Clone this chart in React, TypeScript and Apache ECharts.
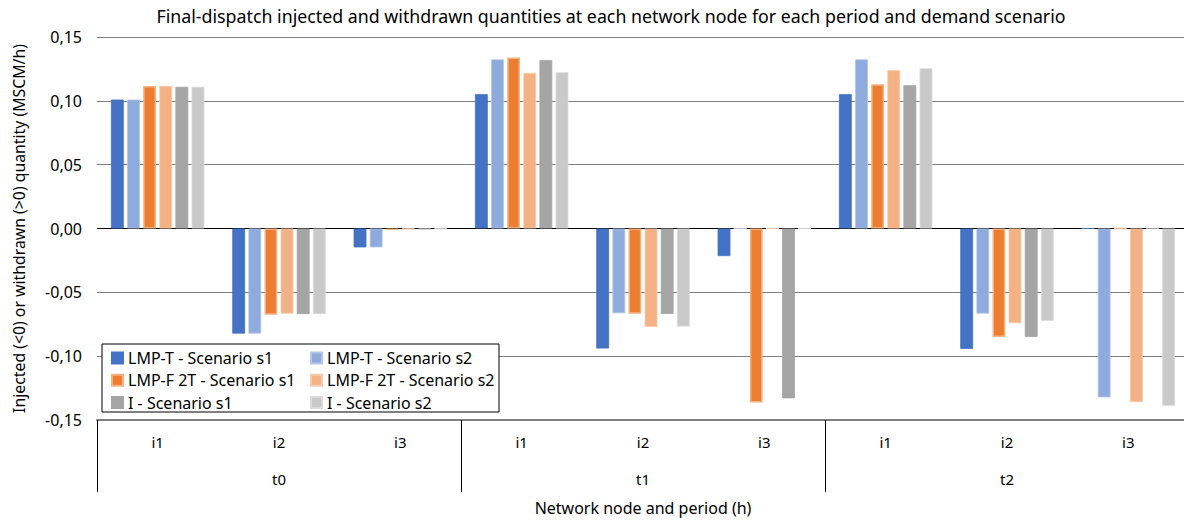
import React, { useEffect, useRef } from "react";
import * as echarts from "echarts";

const nodes = ["i1", "i2", "i3", "i1", "i2", "i3", "i1", "i2", "i3"];
const periods = ["t0", "t1", "t2"];
const yTicks = [-0.15, -0.1, -0.05, 0, 0.05, 0.1, 0.15];

const lmpTs1 = [0.101, -0.0823, -0.0148, 0.1052, -0.094, -0.0216, 0.1052, -0.0943, 0];
const lmpTs2 = [0.101, -0.0823, -0.0148, 0.1325, -0.0664, 0, 0.1325, -0.0667, -0.1323];
const lmpFs1 = [0.1117, -0.0675, -0.001, 0.1339, -0.0667, -0.1362, 0.113, -0.0849, 0];
const lmpFs2 = [0.1117, -0.0667, -0.0005, 0.1219, -0.0771, 0, 0.124, -0.0742, -0.136];
const is1 = [0.111, -0.067, -0.0005, 0.132, -0.0669, -0.133, 0.1122, -0.0849, 0];
const is2 = [0.111, -0.067, -0.0003, 0.1224, -0.0768, 0, 0.1255, -0.0724, -0.1388];

const seriesNames = [
  "LMP-T - Scenario s1",
  "LMP-T - Scenario s2",
  "LMP-F 2T - Scenario s1",
  "LMP-F 2T - Scenario s2",
  "I - Scenario s1",
  "I - Scenario s2",
];
const seriesData = [lmpTs1, lmpTs2, lmpFs1, lmpFs2, is1, is2];
const colors = ["#4472C4", "#8FAADC", "#ED7D31", "#F4B183", "#A5A5A5", "#C9C9C9"];
const borders = ["#4472C4", "#B4C7E7", "#F4B183", "#F8CBAD", "#A5A5A5", "#DBDBDB"];

const FONT = "Noto Sans";

export default function App() {
  const ref = useRef<HTMLDivElement>(null);
  useEffect(() => {
    if (!ref.current) return;
    const chart = echarts.init(ref.current, undefined, { renderer: "svg" });
    const fmt = (v: number) => v.toFixed(2).replace(".", ",");
    const splitColors = yTicks.map((t) => (t === 0 ? "#000000" : "#808080"));
    const legendText = { fontFamily: FONT, fontSize: 16, color: "#000" };
    chart.setOption({
      animation: false,
      color: colors,
      textStyle: { fontFamily: FONT },
      grid: { left: 97, top: 37, width: 1092, bottom: 102, outerBoundsMode: "none", containLabel: false },
      graphic: [
        {
          type: "text",
          x: 611,
          y: 16,
          style: {
            text: "Final-dispatch injected and withdrawn quantities at each network node for each period and demand scenario",
            fontFamily: FONT,
            fontSize: 17.8,
            fill: "#000",
            textAlign: "center",
            textVerticalAlign: "middle",
          },
        },
        {
          type: "rect",
          z: 3,
          shape: { x: 102, y: 344, width: 397, height: 68 },
          style: { fill: "#fff", stroke: "#000", lineWidth: 1 },
        },
      ],
      legend: [
        {
          data: [seriesNames[0], seriesNames[2], seriesNames[4]],
          orient: "vertical",
          left: 106,
          top: 345,
          itemWidth: 11,
          itemHeight: 11,
          itemGap: 6.3,
          icon: "rect",
          z: 5,
          textStyle: legendText,
        },
        {
          data: [seriesNames[1], seriesNames[3], seriesNames[5]],
          orient: "vertical",
          left: 305,
          top: 345,
          itemWidth: 11,
          itemHeight: 11,
          itemGap: 6.3,
          icon: "rect",
          z: 5,
          textStyle: legendText,
        },
      ],
      xAxis: [
        {
          type: "category",
          data: nodes,
          position: "bottom",
          axisLine: { show: true, onZero: false, lineStyle: { color: "#7f7f7f", width: 2 } },
          axisTick: { show: false },
          axisLabel: { margin: 14, fontFamily: FONT, fontSize: 15, color: "#000" },
          splitLine: { show: false },
        },
        {
          type: "category",
          data: periods,
          position: "bottom",
          axisLine: { show: false, onZero: false },
          axisTick: { show: true, length: 72, alignWithLabel: false, lineStyle: { color: "#000", width: 1 } },
          axisLabel: { margin: 51, fontFamily: FONT, fontSize: 15, color: "#000" },
          name: "Network node and period (h)",
          nameLocation: "middle",
          nameGap: 80,
          nameTextStyle: { fontFamily: FONT, fontSize: 16, color: "#000" },
        },
      ],
      yAxis: {
        type: "value",
        min: -0.15,
        max: 0.15,
        interval: 0.05,
        axisLine: { show: false },
        axisTick: { show: false },
        axisLabel: { margin: 15, fontFamily: FONT, fontSize: 16, color: "#000", formatter: fmt },
        splitLine: { show: true, lineStyle: { color: splitColors, width: 1 } },
        name: "Injected (<0) or withdrawn (>0) quantity (MSCM/h)",
        nameLocation: "middle",
        nameGap: 70,
        nameRotate: 90,
        nameTextStyle: { fontFamily: FONT, fontSize: 15.8, color: "#000" },
      },
      series: seriesNames.map((name, i) => ({
        name,
        type: "bar",
        xAxisIndex: 0,
        data: seriesData[i],
        barCategoryGap: "23%",
        barGap: "26%",
        itemStyle: { color: colors[i], borderColor: borders[i], borderWidth: i === 2 ? 1.5 : 0.8 },
      })),
    });
    return () => chart.dispose();
  }, []);
  return (
    <div
      ref={ref}
      style={{ position: "fixed", left: 0, top: 0, width: 1184, height: 522, background: "#fff" }}
    />
  );
}
